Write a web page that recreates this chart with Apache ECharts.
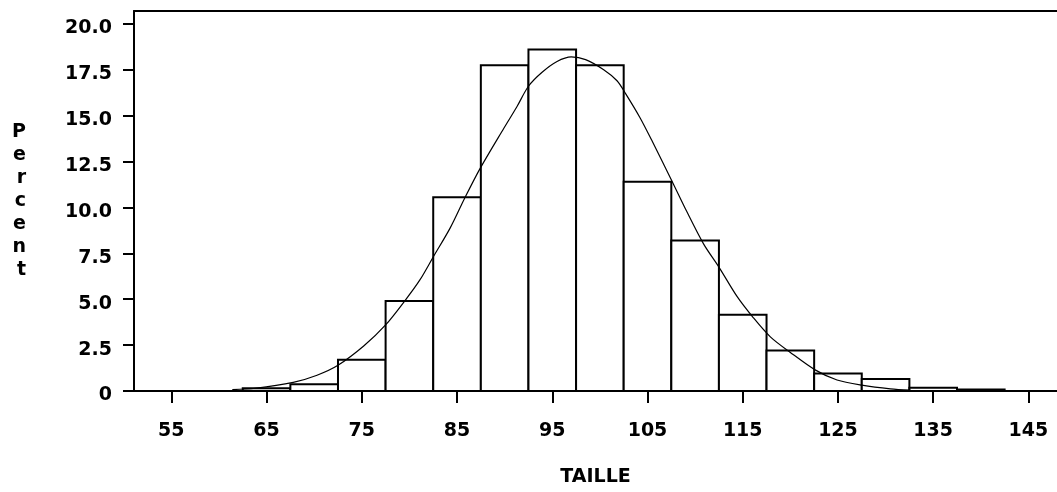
<!DOCTYPE html>
<html><head><meta charset="utf-8">
<script src="https://cdn.jsdelivr.net/npm/echarts@6/dist/echarts.min.js"></script>
<style>html,body{margin:0;padding:0;background:#fff;}#c{width:1057px;height:492px;}</style>
</head><body><div id="c"></div>
<script>
// Histogram bins (centres, width 5) and percentages
const binCenters = [65, 70, 75, 80, 85, 90, 95, 100, 105, 110, 115, 120, 125, 130, 135, 140];
const percents   = [0.15, 0.37, 1.7, 4.9, 10.55, 17.75, 18.6, 17.75, 11.4, 8.2, 4.15, 2.2, 0.95, 0.65, 0.18, 0.08];
const binWidth = 5;
// Fitted normal curve
const curveX = [61.4, 63.8, 67.8, 70.3, 72.5, 75.2, 77.5, 79.5, 81.1, 82.5, 84.3, 85.8, 87.4, 89.9, 91.3, 92.5, 93.9, 95.5, 97.0, 98.5, 100.4, 101.8, 102.7, 104.2, 105.5, 107.6, 109.1, 110.9, 112.5, 114.4, 116.1, 117.9, 120.0, 122.6, 124.9, 127.5, 130.5, 132.6];
const curveY = [0.08, 0.15, 0.47, 0.86, 1.4, 2.45, 3.6, 4.9, 6.05, 7.3, 8.9, 10.5, 12.1, 14.3, 15.5, 16.6, 17.35, 17.95, 18.2, 18.05, 17.5, 16.9, 16.2, 14.9, 13.6, 11.4, 9.8, 8.0, 6.75, 5.15, 4.0, 2.95, 2.1, 1.15, 0.6, 0.32, 0.12, 0.05];
const xTicks = [55, 65, 75, 85, 95, 105, 115, 125, 135, 145];
const yTicks = [0, 2.5, 5, 7.5, 10, 12.5, 15, 17.5, 20];

const FONT = 'DejaVu Sans';
const chart = echarts.init(document.getElementById('c'), null, {renderer: 'canvas'});
const xMin = 51.08, xMax = 148;
const axisLineStyle = {color: '#000', width: 2};
chart.setOption({
  animation: false,
  backgroundColor: '#fff',
  grid: {left: 134, top: 11, right: 0, bottom: 95, containLabel: false},
  xAxis: [{
    type: 'value', min: xMin, max: xMax, position: 'bottom',
    axisLine: {show: true, onZero: false, lineStyle: axisLineStyle},
    axisTick: {show: true, customValues: xTicks, length: 12, lineStyle: axisLineStyle},
    axisLabel: {customValues: xTicks, margin: 31, color: '#000', fontFamily: FONT, fontWeight: 'bold', fontSize: 19},
    splitLine: {show: false},
    name: 'TAILLE', nameLocation: 'middle', nameGap: 77,
    nameTextStyle: {color: '#000', fontFamily: FONT, fontWeight: 'bold', fontSize: 19, verticalAlign: 'top'}
  }, {
    type: 'value', min: xMin, max: xMax, position: 'top',
    axisLine: {show: true, onZero: false, lineStyle: axisLineStyle},
    axisTick: {show: false}, axisLabel: {show: false}, splitLine: {show: false}
  }],
  yAxis: {
    type: 'value', min: 0, max: 20.7,
    axisLine: {show: true, lineStyle: axisLineStyle},
    axisTick: {show: true, customValues: yTicks, length: 11, lineStyle: axisLineStyle},
    axisLabel: {customValues: yTicks, margin: 22, color: '#000', fontFamily: FONT, fontWeight: 'bold', fontSize: 19,
      verticalAlign: 'top', lineHeight: 9,
      formatter: v => v === 0 ? '0' : v.toFixed(1)},
    splitLine: {show: false},
    name: 'P\ne\nr\nc\ne\nn\nt', nameLocation: 'middle', nameRotate: 0, nameGap: 108,
    nameTextStyle: {color: '#000', fontFamily: FONT, fontWeight: 'bold', fontSize: 19, lineHeight: 23, padding: [12, 0, 0, 0]}
  },
  series: [{
    type: 'custom',
    xAxisIndex: 0,
    data: binCenters.map((c, i) => [c, percents[i]]),
    encode: {x: 0, y: 1},
    renderItem: function (params, api) {
      const c = api.value(0), v = api.value(1);
      const p0 = api.coord([c - binWidth / 2, v]);
      const p1 = api.coord([c + binWidth / 2, 0]);
      return {type: 'rect', shape: {x: p0[0], y: p0[1], width: p1[0] - p0[0], height: p1[1] - p0[1]},
        style: {fill: '#fff', stroke: '#000', lineWidth: 2}};
    },
    z: 2
  }, {
    type: 'line',
    xAxisIndex: 0,
    data: curveX.map((x, i) => [x, curveY[i]]),
    showSymbol: false, smooth: 0.3,
    lineStyle: {color: '#000', width: 1.2},
    z: 3
  }]
});
</script></body></html>
